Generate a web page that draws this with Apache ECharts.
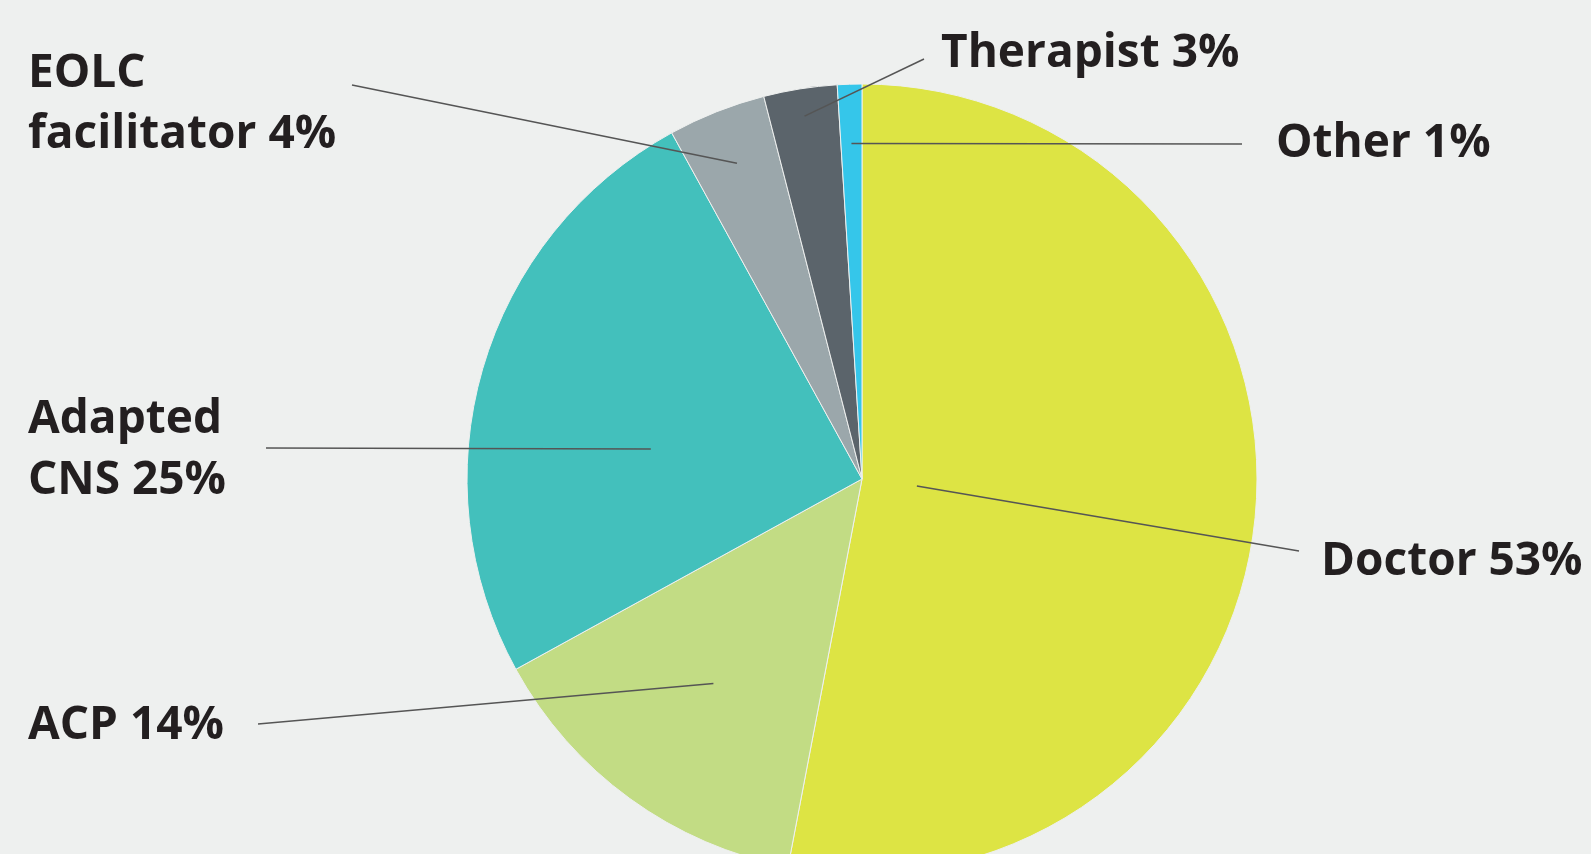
<!DOCTYPE html>
<html>
<head>
<meta charset="utf-8">
<title>pie</title>
<script src="https://cdn.jsdelivr.net/npm/echarts@6/dist/echarts.min.js"></script>
<style>
	html,body{margin:0;padding:0;background:#eef0ef;}
	#main{width:1591px;height:854px;}
</style>
</head>
<body>
<div id="main"></div>
<script>
//数据
var names = ['Doctor', 'ACP', 'Adapted\nCNS', 'EOLC\nfacilitator', 'Therapist', 'Other'];
var values = [53, 14, 25, 4, 3, 1];
var colors = ['#dde444', '#c2dc84', '#43c0bc', '#9ba7ab', '#5b646b', '#35c6ea'];

//标签位置 (label x, y) 和引线终点
var labelPos = [[1321, 562], [28, 726], [28, 450], [28, 104], [941, 54], [1276, 144]];
var lineEnd = [[1299, 551], [258, 724], [266, 448], [352, 85], [924, 59], [1242, 144]];
var lineStartR = [0.14, 0.64, 0.54, 0.86, 0.93, 0.85];
var lineStartT = [0.51, 0.5, 0.41, 0.5, 0.5, 0.5];

var cx = 862, cy = 479, R = 395;

var dom = document.getElementById("main");
var myChart = echarts.init(dom);

var total = 0;
for (var i = 0; i < values.length; i++) total += values[i];
var midAngle = [];
var acc = 0;
for (var i = 0; i < values.length; i++) {
	midAngle.push((acc + values[i] * lineStartT[i]) / total * Math.PI * 2);
	acc += values[i];
}

var pieData = [];
for (var i = 0; i < values.length; i++) {
	pieData.push({name: names[i], value: values[i], itemStyle: {color: colors[i]}});
}

//引线
var lines = [];
for (var i = 0; i < values.length; i++) {
	var r = R * lineStartR[i];
	lines.push({
		type: 'line',
		z: 100,
		silent: true,
		shape: {
			x1: cx + Math.sin(midAngle[i]) * r,
			y1: cy - Math.cos(midAngle[i]) * r,
			x2: lineEnd[i][0],
			y2: lineEnd[i][1]
		},
		style: {stroke: '#555555', lineWidth: 1.5}
	});
}

var option = {
	backgroundColor: '#eef0ef',
	animation: false,
	graphic: lines,
	series: [
		{
			type: 'pie',
			center: [cx, cy],
			radius: R,
			startAngle: 90,
			clockwise: true,
			avoidLabelOverlap: false,
			itemStyle: {
				borderColor: '#eef0ef',
				borderWidth: 1
			},
			label: {
				show: true,
				position: 'outside',
				formatter: function (p) {
					return p.name + ' ' + p.value + '%';
				},
				fontFamily: 'Open Sans',
				fontWeight: 'bold',
				fontSize: 46,
				lineHeight: 61,
				color: '#231f20'
			},
			labelLine: {
				show: false
			},
			labelLayout: function (params) {
				var i = params.dataIndex;
				return {
					x: labelPos[i][0],
					y: labelPos[i][1],
					align: 'left',
					verticalAlign: 'middle'
				};
			},
			data: pieData
		}
	]
};
if (option && typeof option === "object") {
	myChart.setOption(option, true);
}
</script>
</body>
</html>
